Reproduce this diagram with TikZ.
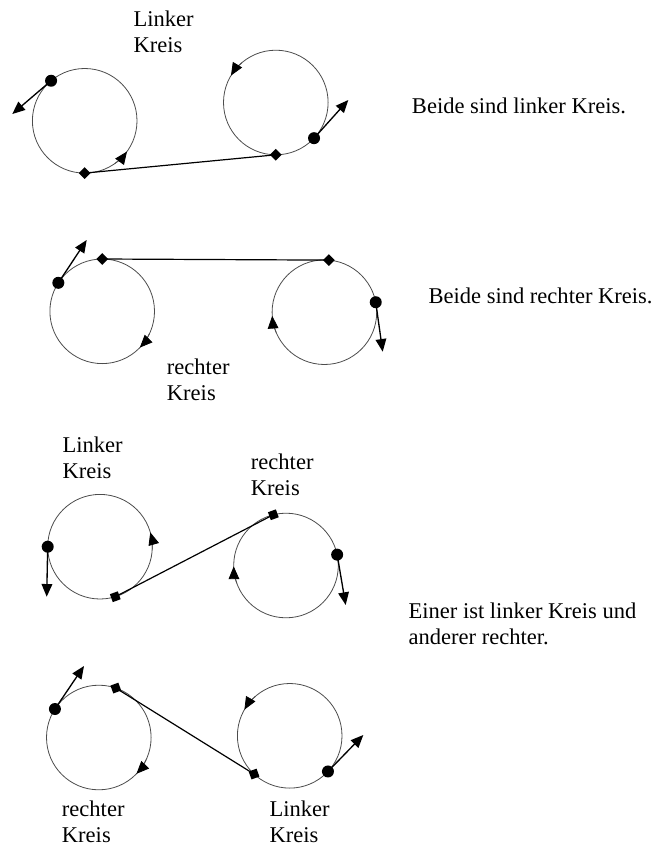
\documentclass[tikz,border=0pt]{standalone}
\usepackage{fontspec}
\setmainfont{Liberation Serif}
\usetikzlibrary{arrows.meta,shapes.geometric}
\begin{document}
\begin{tikzpicture}[x=0.75pt,y=0.75pt,
  ring/.style={circle,draw=black!70,line width=0.6pt,minimum size=78.45pt,inner sep=0pt,outer sep=0pt},
  dotm/.style={circle,fill=black,minimum size=9pt,inner sep=0pt},
  diam/.style={diamond,fill=black,minimum size=9pt,inner sep=0pt},
  sqm/.style={rectangle,fill=black,minimum size=6.3pt,inner sep=0pt},
  vec/.style={line width=1pt,-{Triangle[length=9.5pt,width=8pt]}},
  turn/.style={line width=0.6pt,black!70,-{Triangle[length=9.5pt,width=8pt,fill=black,color=black]}},
  link/.style={line width=0.9pt},
  lbl/.style={font=\fontsize{16.9}{19.2}\selectfont,inner sep=0pt,anchor=base west,align=left}]
\useasboundingbox (0,0) rectangle (658,-846);
% ---------- row 1 ----------
\node[ring] (c1) at (84.7,-120.8) {};
\node[ring] (c2) at (275.8,-102.5) {};
\node[dotm] (d1) at (c1.130) {};
\coordinate (t1) at (12.3,-114);
\draw[vec] (d1.center) -- (t1);
\draw[turn] (c1.305) arc[start angle=305,end angle=324,radius=39.2pt];
\node[diam] (m1) at (c1.270) {};
\node[diam] (m2) at (c2.270) {};
\draw[link] (m1.center) -- (m2.center);
\draw[turn] (c2.130) arc[start angle=130,end angle=149,radius=39.2pt];
\node[dotm] (d2) at (c2.317) {};
\coordinate (t2) at (348.3,-100);
\draw[vec] (d2.center) -- (t2);
\node[lbl] (l1) at (133.3,-52.3) {Linker\\Kreis};
\node[lbl] (x1) at (411.7,-113) {Beide sind linker Kreis.};
% ---------- row 2 ----------
\node[ring] (c3) at (102.2,-311.3) {};
\node[ring] (c4) at (324.4,-312.2) {};
\node[diam] (m3) at (c3.90) {};
\node[diam] (m4) at (c4.85) {};
\draw[link] (m3.center) -- (m4.center);
\node[dotm] (d3) at (c3.147) {};
\coordinate (t3) at (86.7,-240);
\draw[vec] (d3.center) -- (t3);
\draw[turn] (c3.335) arc[start angle=335,end angle=316,radius=39.2pt];
\draw[turn] (c4.203) arc[start angle=203,end angle=184,radius=39.2pt];
\node[dotm] (d4) at (c4.11) {};
\coordinate (t4) at (382.7,-351.7);
\draw[vec] (d4.center) -- (t4);
\node[lbl] (l2) at (166.7,-400) {rechter\\Kreis};
\node[lbl] (x2) at (428.3,-303.3) {Beide sind rechter Kreis.};
% ---------- row 3 ----------
\node[ring] (c5) at (100,-546.7) {};
\node[ring] (c6) at (286,-565.5) {};
\node[dotm] (d5) at (c5.180) {};
\coordinate (t5) at (46.7,-596.7);
\draw[vec] (d5.center) -- (t5);
\draw[turn] (c5.357) arc[start angle=-3,end angle=16,radius=39.2pt];
\node[sqm,rotate=20] (m5) at (c5.287) {};
\node[sqm,rotate=20] (m6) at (c6.104) {};
\draw[link] (m5.center) -- (m6.center);
\draw[turn] (c6.200) arc[start angle=200,end angle=181,radius=39.2pt];
\node[dotm] (d6) at (c6.12) {};
\coordinate (t6) at (345.7,-605);
\draw[vec] (d6.center) -- (t6);
\node[lbl] (l3) at (62.3,-478) {Linker\\Kreis};
\node[lbl] (l4) at (250.7,-495) {rechter\\Kreis};
\node[lbl] (x3) at (408.3,-644) {Einer ist linker Kreis und\\anderer rechter.};
% ---------- row 4 ----------
\node[ring] (c7) at (98.8,-737.5) {};
\node[ring] (c8) at (289.7,-735.8) {};
\node[dotm] (d7) at (c7.147) {};
\coordinate (t7) at (84,-666);
\draw[vec] (d7.center) -- (t7);
\node[sqm,rotate=20] (m7) at (c7.71) {};
\node[sqm,rotate=20] (m8) at (c8.227) {};
\draw[link] (m7.center) -- (m8.center);
\draw[turn] (c7.335) arc[start angle=335,end angle=316,radius=39.2pt];
\draw[turn] (c8.131) arc[start angle=131,end angle=150,radius=39.2pt];
\node[dotm] (d8) at (c8.317) {};
\coordinate (t8) at (363.3,-735);
\draw[vec] (d8.center) -- (t8);
\node[lbl] (l5) at (61.7,-842.3) {rechter\\Kreis};
\node[lbl] (l6) at (269.3,-842.3) {Linker\\Kreis};
\end{tikzpicture}
\end{document}
